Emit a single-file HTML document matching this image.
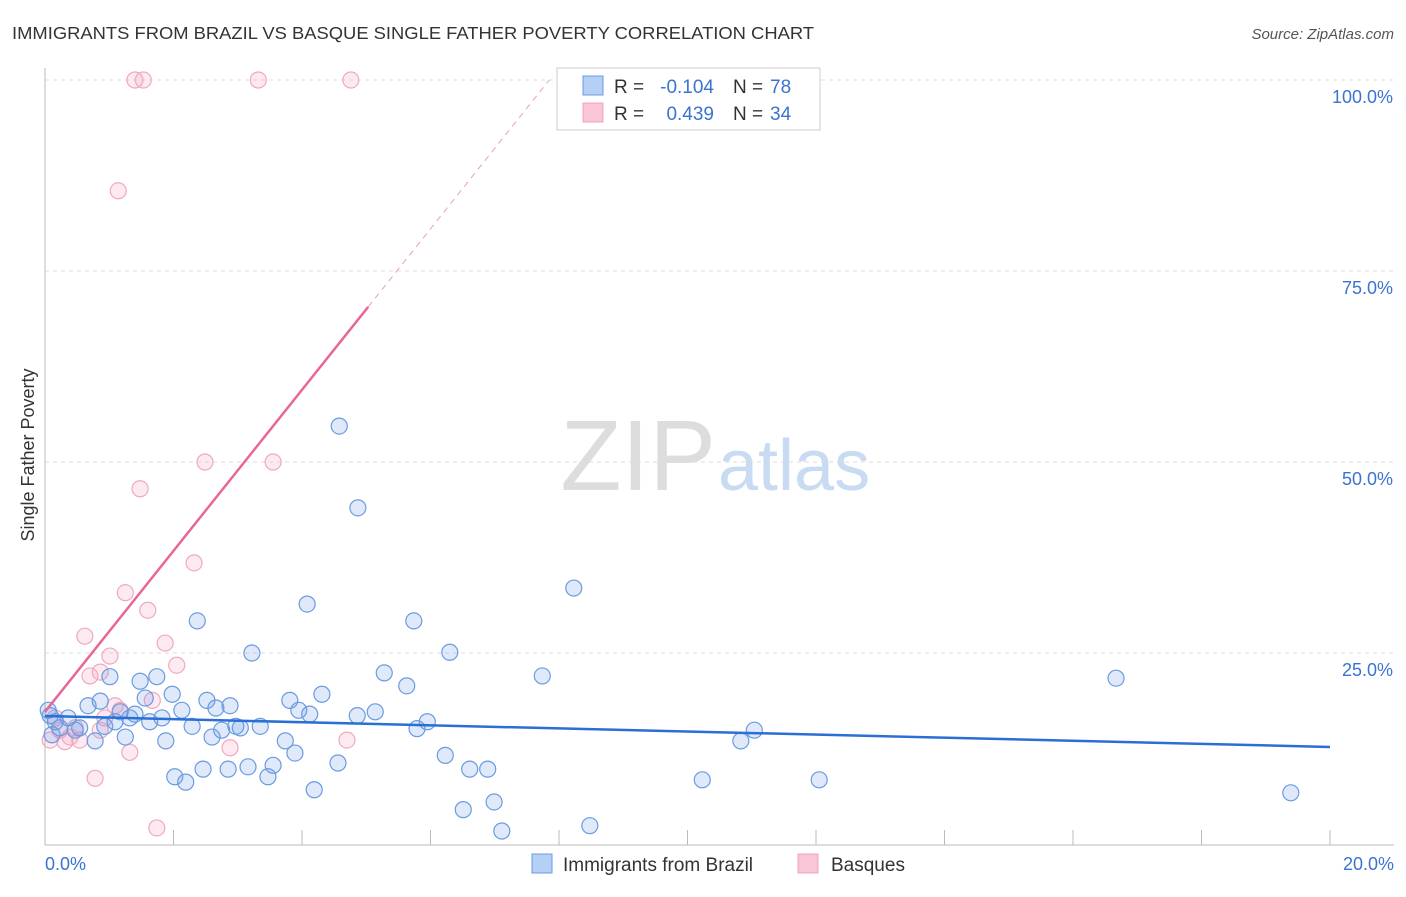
<!DOCTYPE html>
<html><head><meta charset="utf-8"><style>
body{margin:0;background:#fff;font-family:"Liberation Sans",sans-serif;}
svg text{font-family:"Liberation Sans",sans-serif;}
</style></head><body>
<svg width="1406" height="892" xmlns="http://www.w3.org/2000/svg">
<text x="12" y="39" font-size="17.5" fill="#333" textLength="802" lengthAdjust="spacingAndGlyphs">IMMIGRANTS FROM BRAZIL VS BASQUE SINGLE FATHER POVERTY CORRELATION CHART</text>
<text x="1394" y="39" font-size="15" fill="#555" text-anchor="end" font-style="italic">Source: ZipAtlas.com</text>
<g id="grid"></g>
<text x="716" y="490" font-size="100" fill="#ddd" text-anchor="end" font-family="Liberation Serif">ZIP</text>
<text x="718" y="490" font-size="72" fill="#c8dbf2">atlas</text>
<g id="marks"></g>
<text x="34" y="455" font-size="18" fill="#333" text-anchor="middle" transform="rotate(-90 34 455)">Single Father Poverty</text>
<g>
<rect x="557" y="68" width="263" height="62" fill="#fff" stroke="#ccc"/>
<rect x="583" y="76" width="20" height="19" fill="#b5cff5" stroke="#6a9be0"/>
<rect x="583" y="103" width="20" height="19" fill="#f9c6d6" stroke="#f0a0bc"/>
<text x="614" y="93" font-size="19" fill="#333">R =</text>
<text x="714" y="93" font-size="19" fill="#3b73d0" text-anchor="end">-0.104</text>
<text x="733" y="93" font-size="19" fill="#333">N =</text>
<text x="770" y="93" font-size="19" fill="#3b73d0">78</text>
<text x="614" y="120" font-size="19" fill="#333">R =</text>
<text x="714" y="120" font-size="19" fill="#3b73d0" text-anchor="end">0.439</text>
<text x="733" y="120" font-size="19" fill="#333">N =</text>
<text x="770" y="120" font-size="19" fill="#3b73d0">34</text>
</g>
<g>
<rect x="532" y="854" width="20" height="19" fill="#b5cff5" stroke="#6a9be0"/>
<text x="563" y="871" font-size="19" fill="#333">Immigrants from Brazil</text>
<rect x="798" y="854" width="20" height="19" fill="#f9c6d6" stroke="#f0a0bc"/>
<text x="831" y="871" font-size="19" fill="#333">Basques</text>
</g>
</svg>
<script>
const yTicks=[25,50,75,100];
const yTickLabels=["25.0%","50.0%","75.0%","100.0%"];
const xTicks=[0,2,4,6,8,10,12,14,16,18,20];
const bluePx=[[50,716],[55,722],[52,735],[60,728],[68,718],[75,730],[80,728],[88,706],[95,741],[100,701],[105,726],[110,677],[115,722],[120,712],[125,737],[130,718],[135,714],[140,681],[145,698],[150,722],[157,677],[162,718],[166,741],[172,694],[175,777],[182,710],[186,782],[192,726],[197,621],[203,769],[207,700],[212,737],[216,708],[222,730],[228,769],[230,706],[236,726],[240,728],[248,767],[252,653],[260,726],[268,777],[273,765],[285,741],[290,700],[295,753],[299,710],[307,604],[310,714],[314,790],[322,694],[338,763],[339,426],[357,716],[358,508],[375,712],[384,673],[407,686],[414,621],[417,729],[427,722],[445,755],[450,652],[463,810],[470,769],[488,769],[494,802],[502,831],[542,676],[574,588],[590,826],[702,780],[741,741],[754,730],[819,780],[1116,678],[1291,793],[48,710]];
const pinkPx=[[50,740],[55,718],[60,730],[65,742],[70,737],[75,728],[80,740],[85,636],[90,676],[95,778],[100,672],[105,718],[110,656],[115,706],[120,710],[125,593],[130,752],[135,80],[140,489],[143,80],[148,610],[152,700],[157,828],[165,643],[177,665],[194,563],[205,462],[230,748],[258,80],[273,462],[118,191],[347,740],[351,80],[100,730]];
const blueX=bluePx.map(p=>+((p[0]-45)/64.25).toFixed(2));
const blueY=bluePx.map(p=>+((844-p[1])/7.64).toFixed(1));
const pinkX=pinkPx.map(p=>+((p[0]-45)/64.25).toFixed(2));
const pinkY=pinkPx.map(p=>+((844-p[1])/7.64).toFixed(1));
const blueTrend=[[0,16.75],[20,12.7]];
const pinkTrend=[[0,17.3],[5.03,70.3]];
const NS="http://www.w3.org/2000/svg";
const sx=v=>45+v*64.25, sy=v=>844-v*7.64;
function mk(t,a,p){const e=document.createElementNS(NS,t);for(const k in a)e.setAttribute(k,a[k]);p.appendChild(e);return e;}
const g=document.getElementById('grid'), m=document.getElementById('marks');
yTicks.forEach((t,i)=>{const l=mk('line',{x1:45,x2:1394,y1:sy(t),y2:sy(t),stroke:'#ddd','stroke-dasharray':'4,4'},g);


const tx=mk('text',{x:1393,y:sy(t)+23,'font-size':18,fill:'#3b73d0','text-anchor':'end'},g);tx.textContent=yTickLabels[i];

});
const ax=mk('line',{x1:45,x2:1394,y1:845,y2:845,stroke:'#bbb'},g);


const ay=mk('line',{x1:45,x2:45,y1:68,y2:845,stroke:'#bbb'},g);


xTicks.forEach(t=>{const l=mk('line',{x1:sx(t),x2:sx(t),y1:830,y2:845,stroke:'#bbb'},g);

});
[[0,'0.0%','start',45],[20,'20.0%','end',1394]].forEach(d=>{const tx=mk('text',{x:d[3],y:870,'font-size':18,fill:'#3b73d0','text-anchor':d[2]},g);tx.textContent=d[1];

});
pinkX.forEach((x,i)=>{const c=mk('circle',{cx:sx(x),cy:sy(pinkY[i]),r:8,fill:'rgba(245,160,190,0.22)',stroke:'#f0a8c0','stroke-width':1.2},m);

});
blueX.forEach((x,i)=>{const c=mk('circle',{cx:sx(x),cy:sy(blueY[i]),r:8,fill:'rgba(110,155,230,0.22)',stroke:'#6a9be0','stroke-width':1.2},m);

});
const bl=mk('line',{x1:sx(blueTrend[0][0]),y1:sy(blueTrend[0][1]),x2:sx(blueTrend[1][0]),y2:sy(blueTrend[1][1]),stroke:'#2a6fd6','stroke-width':2.5},m);


const pl=mk('line',{x1:sx(pinkTrend[0][0]),y1:sy(pinkTrend[0][1]),x2:sx(pinkTrend[1][0]),y2:sy(pinkTrend[1][1]),stroke:'#e8679a','stroke-width':2.5},m);


const slope=(pinkTrend[1][1]-pinkTrend[0][1])/(pinkTrend[1][0]-pinkTrend[0][0]);
const xe=(100-pinkTrend[0][1])/slope;
const pd=mk('line',{x1:sx(pinkTrend[1][0]),y1:sy(pinkTrend[1][1]),x2:sx(xe),y2:sy(100),stroke:'#e8a0b8','stroke-width':1,'stroke-dasharray':'6,5'},m);


</script>
</body></html>
